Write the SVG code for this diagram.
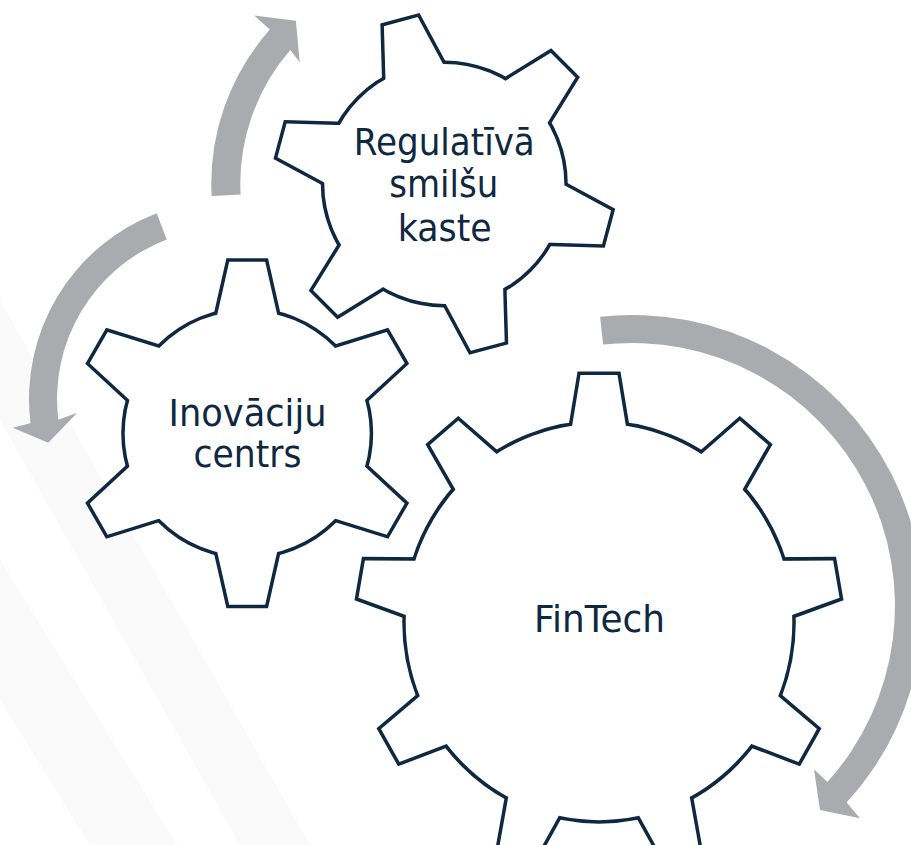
<svg xmlns="http://www.w3.org/2000/svg" width="911" height="845" viewBox="0 0 911 845">
<style>
.bg{fill:#fafafb}
.arrow{fill:#a9abae}
.edge{fill:none;stroke:#0e2841;stroke-width:7;stroke-linejoin:miter}
.face{fill:#ffffff;stroke:none}
.label{font-family:"DejaVu Sans","Liberation Sans",sans-serif;font-size:38px;fill:#0e2841;text-anchor:middle}
</style>
<defs>
<polygon id="t1" points="-17.5,-168 17.5,-168 38.3,-80 -38.3,-80"/>
<polygon id="t2" points="-18,-171.5 18,-171.5 38.7,-80 -38.7,-80"/>
<polygon id="t3" points="-18.5,-241 18.5,-241 33.9,-150 -33.9,-150"/>
</defs>
<rect width="911" height="845" fill="#ffffff"/>
<g id="background">
<polygon class="bg" points="0,300 310,845 240,845 0,420"/>
<polygon class="bg" points="0,560 177,845 90,845 0,700"/>
</g>
<g id="connectors">
<path class="arrow" d="M 211.6,196.1 A 233 233 0 0 1 269.8,29.5 L 254.1,15.6 L 295.9,20.8 L 299.7,62.2 L 290.3,50.1 A 204 204 0 0 0 240.6,194.6 Z"/>
<path class="arrow" d="M 156.7,213.2 A 199 199 0 0 0 30.5,423.3 L 12.7,427.7 L 48.3,442.7 L 77.3,412.7 L 58.3,419.8 A 171 171 0 0 1 166.7,239.4 Z"/>
<path class="arrow" d="M 600.1,316.7 A 291 291 0 0 1 846.6,802.6 L 860,818.3 L 820,810 L 814,769.3 L 827.4,782 A 263 263 0 0 0 603.1,344.6 Z"/>
</g>
<g id="gear-regulativa">
<g transform="translate(444.3,183.9)">
<g class="edge"><circle r="120"/><use href="#t1" transform="rotate(-15)"/><use href="#t1" transform="rotate(45)"/><use href="#t1" transform="rotate(105)"/><use href="#t1" transform="rotate(165)"/><use href="#t1" transform="rotate(225)"/><use href="#t1" transform="rotate(285)"/></g>
<g class="face"><circle r="120"/><use href="#t1" transform="rotate(-15)"/><use href="#t1" transform="rotate(45)"/><use href="#t1" transform="rotate(105)"/><use href="#t1" transform="rotate(165)"/><use href="#t1" transform="rotate(225)"/><use href="#t1" transform="rotate(285)"/></g>
</g>
<text class="label" x="444.3" y="155" textLength="181" lengthAdjust="spacingAndGlyphs">Regulatīvā</text>
<text class="label" x="443.7" y="197" textLength="109" lengthAdjust="spacingAndGlyphs">smilšu</text>
<text class="label" x="444.7" y="240.5" textLength="94" lengthAdjust="spacingAndGlyphs">kaste</text>
</g>
<g id="gear-inovaciju">
<g transform="translate(247.2,433.3)">
<g class="edge"><circle r="122.5"/><use href="#t2"/><use href="#t2" transform="rotate(60)"/><use href="#t2" transform="rotate(120)"/><use href="#t2" transform="rotate(180)"/><use href="#t2" transform="rotate(240)"/><use href="#t2" transform="rotate(300)"/></g>
<g class="face"><circle r="122.5"/><use href="#t2"/><use href="#t2" transform="rotate(60)"/><use href="#t2" transform="rotate(120)"/><use href="#t2" transform="rotate(180)"/><use href="#t2" transform="rotate(240)"/><use href="#t2" transform="rotate(300)"/></g>
</g>
<text class="label" x="247.5" y="426" textLength="158" lengthAdjust="spacingAndGlyphs">Inovāciju</text>
<text class="label" x="247.5" y="466.5" textLength="108" lengthAdjust="spacingAndGlyphs">centrs</text>
</g>
<g id="gear-fintech">
<g transform="translate(599,622) scale(1,1.025)">
<g class="edge"><circle r="193.3"/><use href="#t3"/><use href="#t3" transform="rotate(40)"/><use href="#t3" transform="rotate(80)"/><use href="#t3" transform="rotate(120)"/><use href="#t3" transform="rotate(160)"/><use href="#t3" transform="rotate(200)"/><use href="#t3" transform="rotate(240)"/><use href="#t3" transform="rotate(280)"/><use href="#t3" transform="rotate(320)"/></g>
<g class="face"><circle r="193.3"/><use href="#t3"/><use href="#t3" transform="rotate(40)"/><use href="#t3" transform="rotate(80)"/><use href="#t3" transform="rotate(120)"/><use href="#t3" transform="rotate(160)"/><use href="#t3" transform="rotate(200)"/><use href="#t3" transform="rotate(240)"/><use href="#t3" transform="rotate(280)"/><use href="#t3" transform="rotate(320)"/></g>
</g>
<text class="label" x="599.5" y="632" textLength="131" lengthAdjust="spacingAndGlyphs">FinTech</text>
</g>
</svg>
